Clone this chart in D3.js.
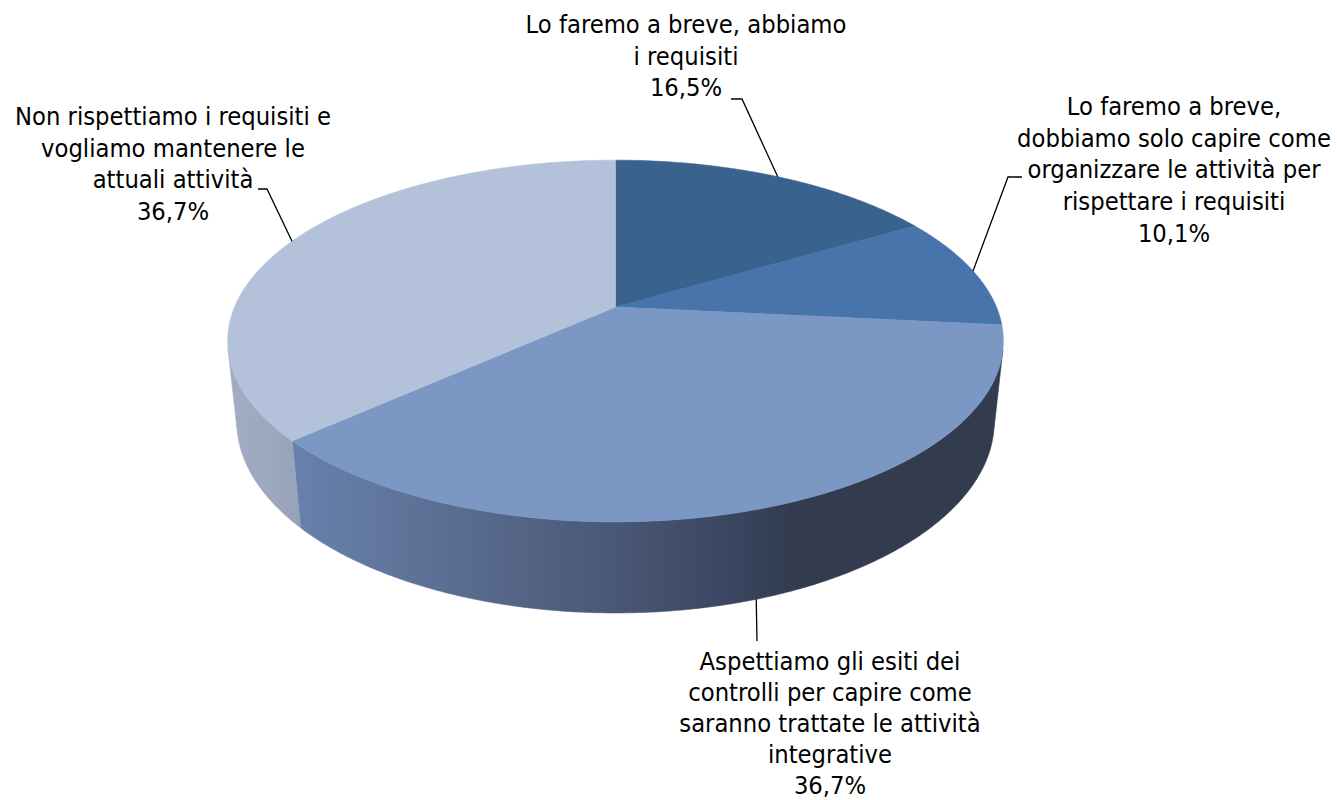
<!DOCTYPE html>
<html>
<head>
<meta charset="utf-8">
<script src="https://cdn.jsdelivr.net/npm/d3@7"></script>
<style>
  html, body { margin: 0; padding: 0; background: #fff; }
  svg { display: block; }
  text { font-family: "DejaVu Sans Condensed", "DejaVu Sans", sans-serif; font-stretch: condensed; fill: #000; }
</style>
</head>
<body>
<svg id="chart" width="1337" height="800"></svg>
<script>
// ---- data ----
const categories = [
  "Lo faremo a breve, abbiamo i requisiti",
  "Lo faremo a breve, dobbiamo solo capire come organizzare le attività per rispettare i requisiti",
  "Aspettiamo gli esiti dei controlli per capire come saranno trattate le attività integrative",
  "Non rispettiamo i requisiti e vogliamo mantenere le attuali attività"
];
const values = [16.5, 10.1, 36.7, 36.7];
const labelLines = [
  ["Lo faremo a breve, abbiamo", "i requisiti"],
  ["Lo faremo a breve,", "dobbiamo solo capire come", "organizzare le attività per", "rispettare i requisiti"],
  ["Aspettiamo gli esiti dei", "controlli per capire come", "saranno trattate le attività", "integrative"],
  ["Non rispettiamo i requisiti e", "vogliamo mantenere le", "attuali attività"]
];

// ---- styles / layout (not data) ----
const topColors = ["#3a628f", "#4674ab", "#7b98c5", "#b3c2da"];
const sideStops = [
  [[0, "#2b4a6c"], [1, "#22384f"]],
  [[0, "#35587f"], [1, "#2a4463"]],
  [[0, "#6882ad"], [0.23, "#5a6d90"], [0.45, "#4a5877"], [0.62, "#3a4560"], [0.70, "#333c4f"], [1, "#333c4f"]],
  [[0, "#a2acc3"], [0.5, "#9ea8c0"], [1, "#97a2ba"]]
];
// label block centre x, first baseline y, leader path points on the label side
const labelLayout = [
  { cx: 686, y: 33,  lh: 31.7, leaderLabel: [[731, 99], [742, 99]], side: "top" },
  { cx: 1174, y: 115, lh: 31.7, leaderLabel: [[1022, 177], [1008, 177]], side: "top" },
  { cx: 830, y: 670, lh: 31.0, leaderLabel: [[757, 641]], side: "bottom" },
  { cx: 173, y: 125, lh: 31.7, leaderLabel: [[258, 189], [267, 189]], side: "top" }
];

// ---- projection (perspective 3D pie) ----
const cx = 615.5, cy = 307;
const R = 1, D = 4.728, sinPhi = 0.458, cosPhi = Math.sqrt(1 - sinPhi * sinPhi);
const f = 1801, H = 0.2394;
function project(theta, r, Y) {
  const X = r * Math.sin(theta), Z = r * Math.cos(theta);
  const yc = Y * cosPhi + Z * sinPhi;
  const zc = D + Z * cosPhi - Y * sinPhi;
  return [cx + f * X / zc, cy - f * yc / zc];
}
const visMin = Math.acos(-R / (D * cosPhi));
const visMax = 2 * Math.PI - visMin;

const fmt = d3.formatLocale({ decimal: ",", thousands: ".", grouping: [3], currency: ["", "€"] }).format(".1f");

const svg = d3.select("#chart");
const defs = svg.append("defs");

const pie = d3.pie().sort(null).value(d => d)(values);

function arcPoints(a0, a1, Y) {
  const n = Math.max(2, Math.ceil((a1 - a0) / (Math.PI / 360)));
  return d3.range(n + 1).map(i => project(a0 + (a1 - a0) * i / n, R, Y));
}
const line = d3.line();

// sides
const gSide = svg.append("g");
pie.forEach((p, i) => {
  const a0 = Math.max(p.startAngle, visMin), a1 = Math.min(p.endAngle, visMax);
  if (a1 <= a0) return;
  const gid = "side" + i;
  const grad = defs.append("linearGradient").attr("id", gid)
    .attr("x1", 0).attr("x2", 1).attr("y1", 0).attr("y2", 0);
  sideStops[i].forEach(s => grad.append("stop").attr("offset", s[0]).attr("stop-color", s[1]));
  const pts = arcPoints(a0, a1, 0).concat(arcPoints(a0, a1, -H).reverse());
  gSide.append("path").attr("d", line(pts) + "Z")
    .attr("fill", `url(#${gid})`).attr("stroke", `url(#${gid})`).attr("stroke-width", 0.6);
});

// tops
const gTop = svg.append("g");
pie.forEach((p, i) => {
  const pts = [project(0, 0, 0)].concat(arcPoints(p.startAngle, p.endAngle, 0));
  gTop.append("path").attr("d", line(pts) + "Z")
    .attr("fill", topColors[i]).attr("stroke", topColors[i]).attr("stroke-width", 0.6);
});

// font fit: match the reference's label width
const probe = svg.append("text").attr("font-size", 20).text("Lo faremo a breve, abbiamo");
const fontSize = 20 * 321 / probe.node().getComputedTextLength();
probe.remove();

// leaders and labels
const gLab = svg.append("g");
pie.forEach((p, i) => {
  const L = labelLayout[i];
  const mid = (p.startAngle + p.endAngle) / 2;
  const anchor = L.side === "bottom" ? project(mid, R, -H) : project(mid, R, 0);
  const pts = [anchor].concat(L.leaderLabel.slice().reverse());
  gLab.append("path").attr("d", line(pts)).attr("fill", "none")
    .attr("stroke", "#000").attr("stroke-width", 1.3);
  const lines = labelLines[i].concat([fmt(values[i]) + "%"]);
  const t = gLab.append("text").attr("text-anchor", "middle").attr("font-size", fontSize);
  lines.forEach((s, k) => t.append("tspan").attr("x", L.cx).attr("y", L.y + k * L.lh).text(s));
});
</script>
</body>
</html>
